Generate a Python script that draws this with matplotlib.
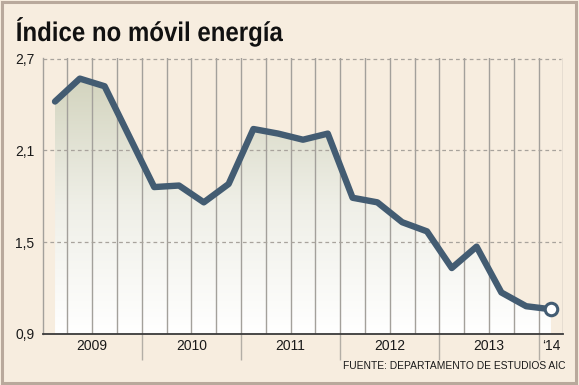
"""Indice no movil energia - quarterly line chart."""

import matplotlib
matplotlib.use("Agg")

import matplotlib.pyplot as plt
import numpy as np
from matplotlib.colors import LinearSegmentedColormap
from matplotlib.font_manager import FontProperties
from matplotlib.patches import PathPatch, Polygon, Rectangle
from matplotlib.textpath import TextPath
from matplotlib.transforms import Affine2D, IdentityTransform

# quarterly values, 2009 Q1 .. 2014 Q1
values = [2.42, 2.57, 2.52, 2.19,
          1.86, 1.87, 1.76, 1.88,
          2.24, 2.21, 2.17, 2.21,
          1.79, 1.76, 1.63, 1.57,
          1.33, 1.47, 1.17, 1.08,
          1.06]
year_labels = ["2009", "2010", "2011", "2012", "2013", "\u201814"]
year_quarters = [4, 4, 4, 4, 4, 1]
y_ticks = [0.9, 1.5, 2.1, 2.7]
y_tick_labels = ["0,9", "1,5", "2,1", "2,7"]
title = "Índice no móvil energía"
source = "FUENTE: DEPARTAMENTO DE ESTUDIOS AIC"

BG = "#F7EDDF"
LINE = "#435C72"
GRID = "#A3A09B"

x = np.arange(len(values)) + 0.5
n_q = sum(year_quarters)

fig = plt.figure(figsize=(5.79, 3.85), dpi=100, facecolor=BG)
fig.patches.append(Rectangle((0.003, 0.005), 0.991, 0.99, transform=fig.transFigure,
                             fill=False, edgecolor="#B9A99C", linewidth=2.2))

ax = fig.add_axes([0.0736, 0.1332, 0.8994, 0.7154])
ax.set_facecolor(BG)
ax.set_xlim(0, n_q)
ax.set_ylim(0.9, 2.703)

# gradient fill under the line
grad = LinearSegmentedColormap.from_list("g", ["#FFFFFF", "#EFEFE7", "#D2D3BD"])
img = ax.imshow(np.linspace(0, 1, 256).reshape(-1, 1), cmap=grad, aspect="auto",
                extent=[x[0], x[-1], 0.9, 2.6], origin="lower", zorder=1)
poly = Polygon(np.column_stack([np.r_[x[0], x, x[-1]], np.r_[0.9, values, 0.9]]),
               closed=True, facecolor="none", edgecolor="none")
ax.add_patch(poly)
img.set_clip_path(poly)

# grid
for q in range(1, n_q):
    ax.axvline(q, color=GRID, linewidth=1.0, zorder=2)
ax.axvline(n_q, color=GRID, linewidth=1.0, zorder=2)
for yv in y_ticks[1:]:
    ax.axhline(yv, xmax=0.995, color="#A8A39C", linewidth=0.9, linestyle=(0, (3, 2.5)), zorder=2)

ax.plot(x, values, color=LINE, linewidth=4.6, solid_joinstyle="round",
        solid_capstyle="round", zorder=4)
ax.plot(x[-1], values[-1], "o", markersize=9, markerfacecolor="white",
        markeredgecolor=LINE, markeredgewidth=2.2, zorder=5)

for s in ["top", "right"]:
    ax.spines[s].set_visible(False)
ax.spines["left"].set_color(GRID)
ax.spines["left"].set_linewidth(1.0)
ax.spines["bottom"].set_color("#3A3A3A")
ax.spines["bottom"].set_linewidth(1.3)
ax.spines["bottom"].set_zorder(6)

ax.set_yticks(y_ticks)
ax.set_yticklabels(y_tick_labels, fontsize=10, family="Liberation Sans", color="#1A1A1A")
ax.tick_params(axis="y", length=0, pad=6)

# year labels and separators below the axis
bounds = np.cumsum([0] + year_quarters)
ax.set_xticks(bounds[1:-1])
ax.set_xticklabels([])
ax.tick_params(axis="x", length=19, width=1.0, color="#B3AEA6", direction="out")
for i, lab in enumerate(year_labels):
    mid = (bounds[i] + bounds[i + 1]) / 2
    ax.text(mid, -0.045, lab, transform=ax.get_xaxis_transform(), ha="center", va="center",
            fontsize=10, family="Liberation Sans", color="#1A1A1A")

# title: bold, horizontally condensed to match the narrow headline face
tp = TextPath((0, 0), title, size=27, prop=FontProperties(family="Liberation Sans", weight="bold"))
ext = tp.get_extents()
sx = 266 / ext.width
title_tr = Affine2D().translate(-ext.x0, 0).scale(sx, 1).translate(17, 385 - 41)
fig.patches.append(PathPatch(tp, transform=title_tr + IdentityTransform(),
                             facecolor="#111111", edgecolor="none"))

fig.text(0.976, 0.050, source, fontsize=7.4,
         family="Liberation Sans", color="#1A1A1A", ha="right", va="center")

fig.savefig("out.png", dpi=100, facecolor=BG)
plt.close(fig)
